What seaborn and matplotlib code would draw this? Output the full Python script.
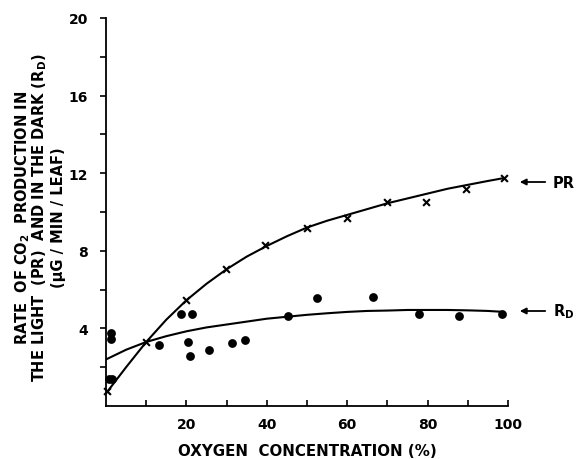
import numpy as np
import pandas as pd
import matplotlib
matplotlib.use("Agg")
import matplotlib.pyplot as plt
import seaborn as sns

# ---- data ----
pr_x = [0.3, 10, 20, 29.8, 39.6, 50, 60, 70, 79.5, 89.6, 99]
pr_y = [0.76, 3.29, 5.44, 7.08, 8.32, 9.18, 9.70, 10.49, 10.53, 11.16, 11.77]

rd_x = [1.2, 1.2, 0.8, 1.6, 13.1, 18.7, 21.4, 20.5, 20.8, 25.5, 31.3, 34.5,
        45.3, 52.6, 66.3, 77.9, 87.8, 98.5]
rd_y = [3.77, 3.46, 1.40, 1.40, 3.17, 4.74, 4.74, 3.29, 2.60, 2.89, 3.24, 3.38,
        4.65, 5.58, 5.62, 4.72, 4.64, 4.72]

# hand-drawn fitted curves
pr_curve_x = [0, 5, 10, 15, 20, 25, 30, 35, 40, 45, 50, 55, 60, 65, 70, 75, 80, 85, 90, 95, 99]
pr_curve_y = [0.65, 2.0, 3.3, 4.45, 5.45, 6.3, 7.05, 7.7, 8.25, 8.75, 9.2, 9.55,
              9.85, 10.15, 10.45, 10.7, 10.95, 11.2, 11.4, 11.6, 11.75]
rd_curve_x = [0, 5, 10, 15, 20, 25, 30, 35, 40, 45, 50, 55, 60, 65, 70, 75, 80, 85, 90, 95, 99]
rd_curve_y = [2.4, 2.9, 3.3, 3.6, 3.85, 4.05, 4.2, 4.35, 4.5, 4.6, 4.7, 4.78,
              4.85, 4.9, 4.92, 4.95, 4.95, 4.95, 4.93, 4.9, 4.85]

x_ticks = [20, 40, 60, 80, 100]
y_ticks = [4, 8, 12, 16, 20]

sns.set_style("white")
plt.rcParams["font.family"] = ["DejaVu Sans"]
plt.rcParams["font.weight"] = "bold"
plt.rcParams["mathtext.default"] = "bf"
plt.rcParams["text.color"] = "black"

fig = plt.figure(figsize=(5.77, 4.60), dpi=100)
ax = fig.add_axes([106/577, 1-407/460, (508-106)/577, (407-19)/460])

pr_df = pd.DataFrame({"x": pr_x, "y": pr_y})
rd_df = pd.DataFrame({"x": rd_x, "y": rd_y})
prc = pd.DataFrame({"x": pr_curve_x, "y": pr_curve_y})
rdc = pd.DataFrame({"x": rd_curve_x, "y": rd_curve_y})

sns.lineplot(data=prc, x="x", y="y", ax=ax, color="black", lw=1.5, sort=True)
sns.lineplot(data=rdc, x="x", y="y", ax=ax, color="black", lw=1.5, sort=True)
sns.scatterplot(data=rd_df, x="x", y="y", ax=ax, color="black", s=40,
                edgecolor="black", linewidth=0, clip_on=False, zorder=3)
sns.scatterplot(data=pr_df, x="x", y="y", ax=ax, color="black", marker="x", s=24,
                linewidth=1.5, clip_on=False, zorder=3)

ax.set_xlim(0, 100)
ax.set_ylim(0, 20)
for s in ["top", "right"]:
    ax.spines[s].set_visible(False)
for s in ["left", "bottom"]:
    ax.spines[s].set_color("black")
    ax.spines[s].set_linewidth(1.3)

ax.set_xticks(np.arange(10, 101, 10))
ax.set_xticklabels([str(t) if t in x_ticks else "" for t in range(10, 101, 10)],
                   fontweight="bold")
ax.set_yticks(np.arange(2, 21, 2))
ax.set_yticklabels([str(t) if t in y_ticks else "" for t in range(2, 21, 2)],
                   fontweight="bold")
ax.tick_params(axis="x", direction="in", length=4, width=1.2, pad=8,
               labelsize=10, bottom=True, colors="black")
ax.tick_params(axis="y", direction="out", length=4, width=1.2, pad=9,
               labelsize=10, left=True, colors="black")

ax.set_xlabel("")
ax.set_ylabel("")

fig.text(307/577, 1-452/460, "OXYGEN  CONCENTRATION (%)", ha="center", va="center",
         fontsize=10.8, fontweight="bold", color="black")

ylab = ["RATE  OF CO$_2$  PRODUCTION IN",
        "THE LIGHT  (PR)  AND IN THE DARK (R$_D$)",
        "(μG / MIN / LEAF)"]
for xp, t in zip([23, 40, 58], ylab):
    fig.text(xp/577, 1-218/460, t, rotation=90, ha="center", va="center",
             fontsize=10.5, fontweight="bold", color="black")

# right-side labels with arrows
for ypix, lab in [(183, "PR"), (312, "R$_D$")]:
    yf = 1 - ypix/460
    ax.annotate("", xy=(517/577, yf), xytext=(548/577, yf), xycoords="figure fraction",
                textcoords="figure fraction",
                arrowprops=dict(arrowstyle="-|>", color="black", lw=1.3, mutation_scale=9))
    fig.text(553/577, yf, lab, ha="left", va="center", fontsize=10.5,
             fontweight="bold", color="black")

fig.savefig("out.png", dpi=100)
